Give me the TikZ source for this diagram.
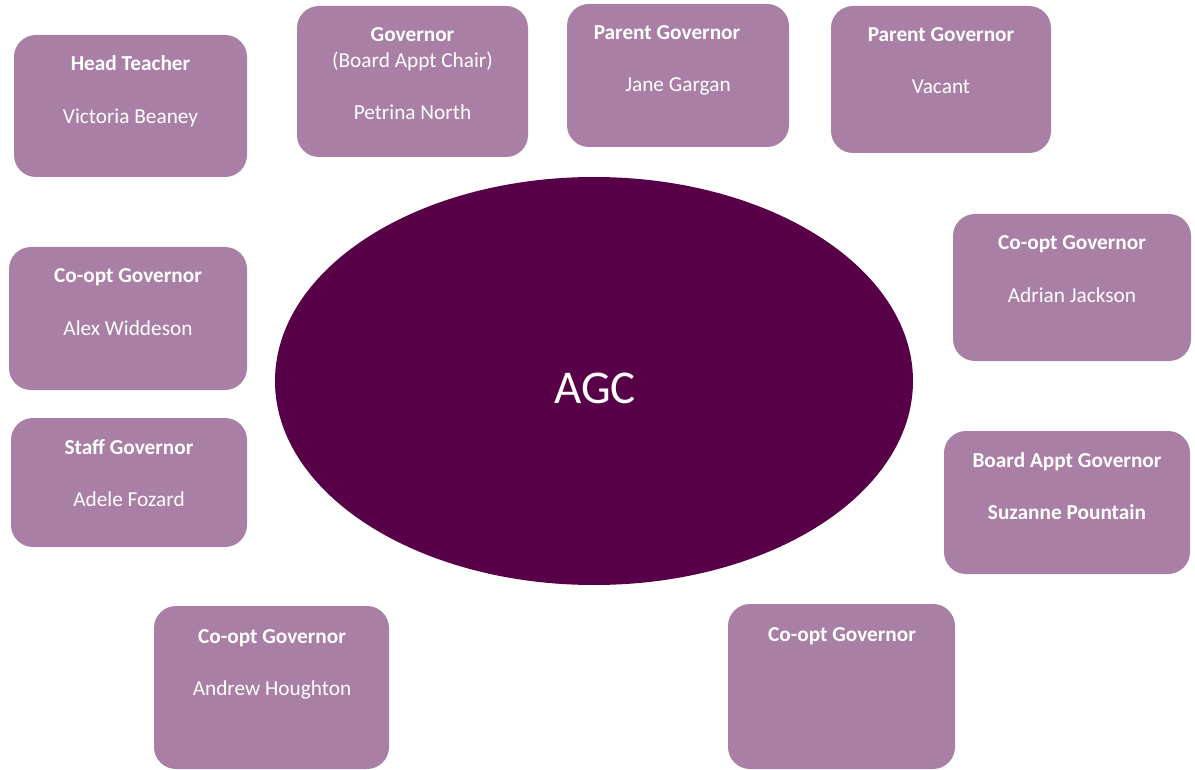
\documentclass[tikz,border=0pt]{standalone}
\usepackage{fontspec}
\setmainfont{Carlito}
\usetikzlibrary{shapes.geometric}
\definecolor{boxfill}{HTML}{A97FA5}
\definecolor{ellfill}{HTML}{570048}
\tikzset{
  gbox/.style={rectangle, rounded corners=22pt, fill=boxfill, draw=none, inner sep=0pt},
  ttl/.style={anchor=base, text=white, font=\fontsize{21.3}{24}\selectfont\bfseries, inner sep=0pt},
  nm/.style={anchor=base, text=white, font=\fontsize{21.3}{24}\selectfont, inner sep=0pt},
}
\begin{document}
\begin{tikzpicture}[x=1pt,y=-1pt]
\useasboundingbox (0,0) rectangle (1195,770);
% central ellipse
\node[ellipse, fill=ellfill, minimum width=638pt, minimum height=408pt, inner sep=0pt] (agc) at (594,381) {};
\node[anchor=base, text=white, font=\fontsize{47}{50}\selectfont, inner sep=0pt] (agct) at (595,403) {AGC};
% boxes
\node[gbox, minimum width=233pt, minimum height=142pt] (b1) at (130.5,106) {};
\node[ttl] (b1t) at (130.5,71) {Head Teacher};
\node[nm] (b1n) at (130.5,124) {Victoria Beaney};

\node[gbox, minimum width=231pt, minimum height=151pt] (b2) at (412.5,81.5) {};
\node[ttl] (b2t) at (412.5,42) {Governor};
\node[nm] (b2s) at (412.5,68) {(Board Appt Chair)};
\node[nm] (b2n) at (412.5,120) {Petrina North};

\node[gbox, minimum width=222pt, minimum height=143pt] (b3) at (678,75.5) {};
\node[ttl] (b3t) at (667,40) {Parent Governor};
\node[nm] (b3n) at (678,92) {Jane Gargan};

\node[gbox, minimum width=220pt, minimum height=147pt] (b4) at (941,79.5) {};
\node[ttl] (b4t) at (941,42) {Parent Governor};
\node[nm] (b4n) at (941,94) {Vacant};

\node[gbox, minimum width=238pt, minimum height=147pt] (b5) at (1072,287.5) {};
\node[ttl] (b5t) at (1072,250) {Co-opt Governor};
\node[nm] (b5n) at (1072,303) {Adrian Jackson};

\node[gbox, minimum width=246pt, minimum height=143pt] (b6) at (1067,502.5) {};
\node[ttl] (b6t) at (1067,467) {Board Appt Governor};
\node[ttl] (b6n) at (1067,519) {Suzanne Pountain};

\node[gbox, minimum width=227pt, minimum height=165pt] (b7) at (841.5,686.5) {};
\node[ttl] (b7t) at (842,641) {Co-opt Governor};

\node[gbox, minimum width=235pt, minimum height=163pt] (b8) at (271.5,687.5) {};
\node[ttl] (b8t) at (272,643) {Co-opt Governor};
\node[nm] (b8n) at (272,695) {Andrew Houghton};

\node[gbox, minimum width=236pt, minimum height=129pt] (b9) at (129,482.5) {};
\node[ttl] (b9t) at (129,454) {Staff Governor};
\node[nm] (b9n) at (129,506) {Adele Fozard};

\node[gbox, minimum width=238pt, minimum height=143pt] (b10) at (128,318.5) {};
\node[ttl] (b10t) at (128,283) {Co-opt Governor};
\node[nm] (b10n) at (128,335) {Alex Widdeson};
\end{tikzpicture}
\end{document}
